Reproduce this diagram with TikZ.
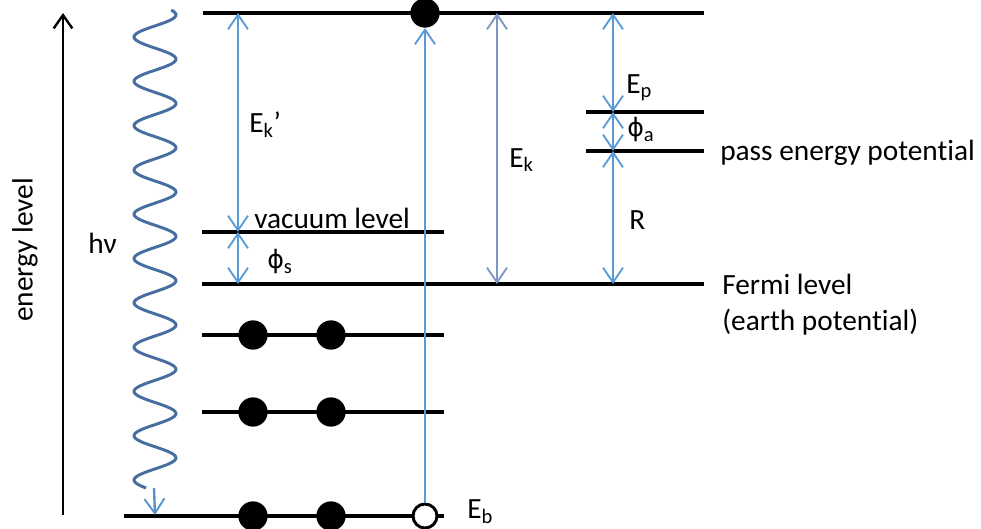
\documentclass[tikz,border=0pt]{standalone}
\usepackage{fontspec}
\setmainfont{Carlito}[Ligatures=NoCommon]
\newfontfamily\phifont{DejaVu Sans}
\usetikzlibrary{arrows.meta}
\definecolor{arrblue}{RGB}{91,155,213}
\definecolor{ekblue}{RGB}{125,152,196}
\definecolor{wave}{RGB}{70,110,160}
\newcommand{\myphi}{{\phifont\fontsize{19}{23}\selectfont ϕ}}
\begin{document}
\begin{tikzpicture}[x=0.75pt,y=-0.75pt,
  lvl/.style={line width=2.5pt,black},
  tipb/.tip={Straight Barb[length=11pt,width=15pt,line width=1.4pt]},
  dbl/.style={line width=1.5pt,arrblue,tipb-tipb},
  elec/.style={circle,fill=black,minimum size=22pt,inner sep=0pt},
  hole/.style={circle,draw=black,line width=2.2pt,fill=white,minimum size=18pt,inner sep=0pt},
  lab/.style={font=\fontsize{22}{26}\selectfont,inner sep=0pt}]
\useasboundingbox (0,0) rectangle (981,528);
% energy axis
\coordinate (axb) at (63,515);
\coordinate (axt) at (63,13);
\draw[line width=2.2pt,-{Straight Barb[length=10pt,width=14pt,line width=1.8pt]}] (axb) -- (axt);
\node[lab,rotate=90] (elab) at (25,250) {energy level};
% levels
\coordinate (t1) at (203,13); \coordinate (t2) at (704,13);
\draw[lvl] (t1) -- (t2);
\coordinate (p1) at (586,112); \coordinate (p2) at (704,112);
\draw[lvl] (p1) -- (p2);
\coordinate (q1) at (586,151); \coordinate (q2) at (704,151);
\draw[lvl] (q1) -- (q2);
\coordinate (v1) at (202,232); \coordinate (v2) at (444,232);
\draw[lvl] (v1) -- (v2);
\coordinate (f1) at (202,284); \coordinate (f2) at (704,284);
\draw[lvl] (f1) -- (f2);
\coordinate (c1) at (202,335); \coordinate (c2) at (444,335);
\draw[lvl] (c1) -- (c2);
\coordinate (d1) at (202,412); \coordinate (d2) at (444,412);
\draw[lvl] (d1) -- (d2);
\coordinate (b1) at (124,516); \coordinate (b2) at (444,516);
\draw[lvl] (b1) -- (b2);
% electrons
\node[elec] (etop) at (425,13) {};
\node[elec] (e11) at (253,335) {};
\node[elec] (e12) at (331,335) {};
\node[elec] (e21) at (253,412) {};
\node[elec] (e22) at (331,412) {};
\node[elec] (e31) at (253,516) {};
\node[elec] (e32) at (331,516) {};
\node[hole] (h) at (425,516) {};
% excitation arrow
\draw[line width=1.5pt,arrblue,-tipb] (h.north) -- (etop.south);
% wave
\draw[wave,line width=2.2pt,domain=10:488,samples=300,smooth,variable=\t]
  plot ({155-21*cos(8.1264*(\t-37))},\t);
\coordinate (w1) at (154,488);
\coordinate (w2) at (155,515);
\draw[line width=1.8pt,arrblue!80!wave,-tipb] (w1) -- (w2);
% dimension arrows
\coordinate (a1) at (238,13); \coordinate (a2) at (238,232); \coordinate (a3) at (238,284);
\draw[dbl] (a1) -- (a2);
\draw[dbl] (a2) -- (a3);
\coordinate (k1) at (497,13); \coordinate (k2) at (497,284);
\draw[dbl,ekblue] (k1) -- (k2);
\coordinate (r1) at (613,13); \coordinate (r2) at (613,112); \coordinate (r3) at (613,151); \coordinate (r4) at (613,284);
\draw[dbl] (r1) -- (r2);
\draw[dbl] (r2) -- (r3);
\draw[dbl] (r3) -- (r4);
% labels
\node[lab,anchor=west] (hv) at (88,243) {hν};
\node[lab,anchor=west] (lek1) at (249,125) {E\textsubscript{k}’};
\node[lab,anchor=west] (lvac) at (254,218) {vacuum level};
\node[lab,anchor=west] (lphs) at (267,262) {\myphi\textsubscript{s}};
\node[lab,anchor=west] (lek) at (509,160) {E\textsubscript{k}};
\node[lab,anchor=west] (lep) at (626,88) {E\textsubscript{p}};
\node[lab,anchor=west] (lpha) at (627,130) {\myphi\textsubscript{a}};
\node[lab,anchor=west] (lr) at (629,220) {R};
\node[lab,anchor=west] (lpass) at (720,153) {pass energy potential};
\node[lab,anchor=west] (lferm) at (722,284) {Fermi level};
\node[lab,anchor=west] (learth) at (722,322) {(earth potential)};
\node[lab,anchor=west] (leb) at (467,512) {E\textsubscript{b}};
\end{tikzpicture}
\end{document}
